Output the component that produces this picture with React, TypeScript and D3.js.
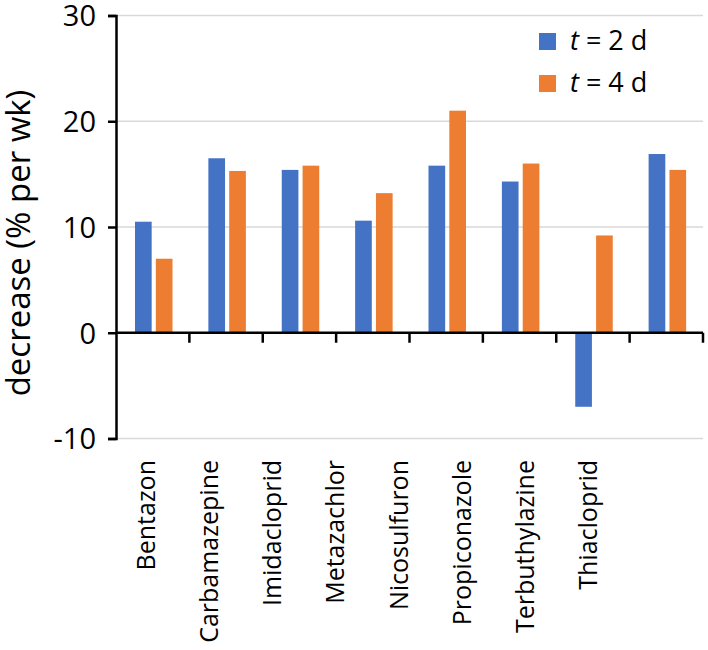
import { useEffect, useRef } from "react";
import * as d3 from "d3";

const compounds = [
  "Bentazon",
  "Carbamazepine",
  "Imidacloprid",
  "Metazachlor",
  "Nicosulfuron",
  "Propiconazole",
  "Terbuthylazine",
  "Thiacloprid",
];
const seriesNames = ["t2", "t4"];
const day2 = [10.5, 16.5, 15.4, 10.6, 15.8, 14.3, -7.0, 16.9];
const day4 = [7.0, 15.3, 15.8, 13.2, 21.0, 16.0, 9.2, 15.4];
const yTicks = [-10, 0, 10, 20, 30];
const legendDays = ["2", "4"];

const BLUE = "#4472C4";
const ORANGE = "#ED7D31";
const FONT = "'Open Sans', sans-serif";

export default function App() {
  const ref = useRef<SVGSVGElement>(null);

  useEffect(() => {
    const svg = d3.select(ref.current);
    svg.selectAll("*").remove();

    const rows = compounds.map((c, i) => ({ name: c, t2: day2[i], t4: day4[i] }));
    const color = d3.scaleOrdinal<string>().domain(seriesNames).range([BLUE, ORANGE]);

    const y = d3.scaleLinear().domain([-10, 30]).range([438.5, 15.5]);
    const x0 = d3.scaleBand().domain(compounds).range([116, 703]);
    const x1 = d3.scaleBand().domain(seriesNames).range([19, 56.5]).paddingInner(0.2);
    // labels in the source sit on a tighter spacing than the bars
    const xLabel = d3.scalePoint().domain(compounds).range([155, 597]);

    // gridlines
    svg
      .append("g")
      .selectAll("line")
      .data(yTicks.filter((d) => d !== 0))
      .join("line")
      .attr("x1", 116)
      .attr("x2", 703)
      .attr("y1", (d) => y(d))
      .attr("y2", (d) => y(d))
      .attr("stroke", "#d9d9d9")
      .attr("stroke-width", 1.5);

    // bars
    svg
      .append("g")
      .selectAll("g")
      .data(rows)
      .join("g")
      .attr("transform", (d) => `translate(${x0(d.name)},0)`)
      .selectAll("rect")
      .data((d) => seriesNames.map((k) => ({ key: k, value: (d as any)[k] as number })))
      .join("rect")
      .attr("x", (d) => x1(d.key)!)
      .attr("width", x1.bandwidth())
      .attr("y", (d) => y(Math.max(0, d.value)))
      .attr("height", (d) => Math.abs(y(d.value) - y(0)))
      .attr("fill", (d) => color(d.key));

    // y axis
    const yAxis = svg
      .append("g")
      .attr("transform", "translate(116,0)")
      .call(
        d3
          .axisLeft(y)
          .tickValues(yTicks)
          .tickSize(8)
          .tickPadding(12)
          .tickFormat((d) => String(d))
      );
    yAxis.select(".domain").attr("stroke", "#000").attr("stroke-width", 2.5);
    yAxis.selectAll(".tick line").attr("stroke", "#000").attr("stroke-width", 2.5);
    yAxis
      .selectAll(".tick text")
      .attr("font-family", FONT)
      .attr("font-size", 29)
      .attr("fill", "#000")
      .attr("dy", "0.36em");

    // category axis at zero
    const xAxis = svg.append("g").attr("transform", `translate(0,${y(0)})`);
    xAxis
      .append("line")
      .attr("x1", 116)
      .attr("x2", 703)
      .attr("stroke", "#000")
      .attr("stroke-width", 2.5);
    xAxis
      .selectAll("line.tk")
      .data(compounds)
      .join("line")
      .attr("class", "tk")
      .attr("x1", (d) => x0(d)! + x0.bandwidth())
      .attr("x2", (d) => x0(d)! + x0.bandwidth())
      .attr("y1", 0)
      .attr("y2", 10)
      .attr("stroke", "#000")
      .attr("stroke-width", 2.5);

    // category labels
    svg
      .append("g")
      .selectAll("text")
      .data(compounds)
      .join("text")
      .attr("transform", (d) => `translate(${xLabel(d)},460) rotate(-90)`)
      .attr("text-anchor", "end")
      .attr("font-family", FONT)
      .attr("font-size", 25)
      .attr("fill", "#000")
      .text((d) => d);

    // y title
    svg
      .append("text")
      .attr("transform", "translate(30,243) rotate(-90)")
      .attr("text-anchor", "middle")
      .attr("font-family", FONT)
      .attr("font-size", 33)
      .attr("fill", "#000")
      .text("decrease (% per wk)");

    // legend
    const legend = svg
      .append("g")
      .selectAll("g")
      .data(seriesNames)
      .join("g")
      .attr("transform", (_, i) => `translate(539,${33 + i * 42})`);
    legend
      .append("rect")
      .attr("width", 17)
      .attr("height", 17)
      .attr("fill", (d) => color(d));
    const lt = legend
      .append("text")
      .attr("x", 31)
      .attr("y", 17)
      .attr("font-family", FONT)
      .attr("font-size", 27)
      .attr("fill", "#000");
    lt.append("tspan").attr("font-style", "italic").text("t");
    lt.append("tspan").text((_, i) => ` = ${legendDays[i]} d`);
  }, []);

  return (
    <>
      <style>{`body{margin:0}`}</style>
      <svg ref={ref} width={708} height={650} style={{ display: "block", background: "#fff" }} />
    </>
  );
}
